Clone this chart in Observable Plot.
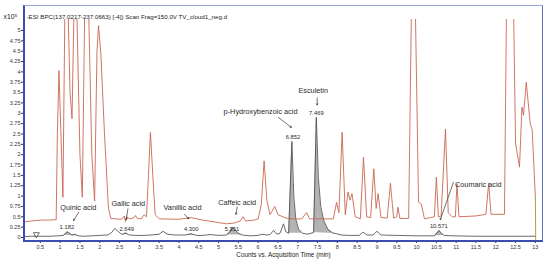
<!DOCTYPE html>
<html><head><meta charset="utf-8">
<script src="https://cdn.jsdelivr.net/npm/d3@7"></script>
<script src="https://cdn.jsdelivr.net/npm/@observablehq/plot@0.6"></script>
<style>
html,body{margin:0;padding:0;background:#fff;}
#wrap{position:relative;width:550px;height:263px;overflow:hidden;}
#frame{position:absolute;left:23px;top:5px;width:517px;height:234px;border-left:2px solid #3b4db0;border-bottom:2px solid #3b4db0;border-top:1px solid #9aa6d8;border-right:1px solid #5f6fc2;pointer-events:none;}
</style></head><body><div id="wrap"><div id="chart"></div><div id="frame"></div></div>
<script>
// ---- data ----
const headerTitle = "-ESI BPC(137.0217-237.0663) [-4]) Scan Frag=150.0V TV_cloud1_neg.d";
const scaleNote = "x10\u2075";
const axisTitle = "Counts vs. Acquisition Time (min)";
const xTicks = [0.5,1,1.5,2,2.5,3,3.5,4,4.5,5,5.5,6,6.5,7,7.5,8,8.5,9,9.5,10,10.5,11,11.5,12,12.5,13];
const yTicks = [0,0.25,0.5,0.75,1,1.25,1.5,1.75,2,2.25,2.5,2.75,3,3.25,3.5,3.75,4,4.25,4.5,4.75,5];

// BPC trace (red), time (min) and counts (x10^5)
const bpcTime = [0.10,0.3,0.5,0.7,0.90,0.93,0.97,1.02,1.07,1.12,1.20,1.25,1.30,1.35,1.42,1.50,1.56,1.62,1.72,1.80,1.87,1.93,1.97,2.03,2.12,2.22,2.28,2.40,2.55,2.62,2.65,2.68,2.75,2.85,2.90,2.95,3.05,3.12,3.18,3.23,3.28,3.34,3.40,3.50,4.0,4.3,4.6,5.0,5.2,5.4,5.55,5.62,5.68,5.9,6.0,6.08,6.15,6.22,6.3,6.42,6.5,6.7,6.9,7.1,7.22,7.3,7.9,7.98,8.04,8.12,8.2,8.27,8.32,8.37,8.45,8.58,8.66,8.74,8.84,8.92,8.98,9.03,9.1,9.26,9.34,9.42,9.5,9.53,9.58,9.8,9.87,9.97,10.05,10.12,10.2,10.35,10.45,10.5,10.55,10.62,10.73,10.8,10.9,10.98,11.02,11.07,11.5,11.75,11.82,11.88,12.22,12.27,12.45,12.5,12.6,12.66,12.7,12.77,12.87,12.92,13.0];
const bpcCount = [0.38,0.40,0.42,0.42,0.43,2.5,4.03,2.5,0.97,5.5,5.5,3.5,2.87,5.5,5.5,2.0,0.97,5.5,5.5,2.0,0.88,4.5,5.12,4.4,2.5,0.7,0.46,0.45,0.44,0.52,0.38,0.5,0.45,0.47,0.53,0.46,0.45,0.55,0.5,1.5,2.54,1.5,0.55,0.45,0.44,0.48,0.42,0.36,0.33,0.35,0.4,0.5,0.4,0.42,0.45,0.8,1.85,0.9,0.55,0.75,0.55,0.47,0.45,0.45,0.6,0.45,0.45,0.85,0.6,2.54,0.55,1.1,0.9,1.06,0.5,0.45,1.94,0.5,0.48,1.66,0.7,1.06,0.48,0.47,1.31,0.47,0.5,0.73,0.46,0.46,5.5,5.5,0.85,0.8,0.45,0.48,0.5,1.46,0.5,0.52,2.62,0.6,0.5,0.5,1.3,0.5,0.52,0.56,1.31,0.56,0.56,5.5,5.5,2.27,1.7,3.15,2.95,3.75,2.75,2.6,0.97];
const tailTime = [13.0,13.01];
const tailCount = [0.97,-0.3];

// EIC trace (black)
const eicTime = [0.10,0.25,0.40,0.55,0.75,0.95,1.08,1.13,1.18,1.23,1.28,1.33,1.37,1.45,1.6,1.8,2.0,2.2,2.3,2.38,2.45,2.52,2.58,2.64,2.69,2.75,2.9,3.1,3.3,3.5,3.6,3.7,3.9,4.05,4.18,4.3,4.37,4.45,4.6,4.8,5.0,5.2,5.28,5.35,5.42,5.5,5.6,5.8,6.0,6.1,6.2,6.3,6.39,6.47,6.55,6.64,6.7,6.77,6.852,6.9,6.95,7.02,7.12,7.25,7.40,7.469,7.52,7.58,7.66,7.76,7.88,7.98,8.1,8.3,8.55,8.65,8.75,8.9,9.0,9.1,9.5,10.0,10.45,10.571,10.62,10.7,10.9,11.5,12.2,12.8,13.0];
const eicCount = [0.02,0.03,0.03,0.03,0.03,0.04,0.05,0.09,0.14,0.11,0.07,0.06,0.08,0.04,0.03,0.04,0.05,0.06,0.12,0.22,0.16,0.1,0.07,0.11,0.09,0.06,0.05,0.05,0.06,0.08,0.15,0.08,0.06,0.06,0.06,0.09,0.07,0.05,0.05,0.07,0.05,0.06,0.13,0.24,0.18,0.1,0.06,0.04,0.05,0.08,0.06,0.07,0.17,0.08,0.1,0.33,0.14,0.1,2.32,1.0,0.45,0.2,0.1,0.08,0.12,2.9,1.45,0.75,0.4,0.2,0.11,0.09,0.06,0.05,0.05,0.13,0.06,0.06,0.15,0.06,0.05,0.04,0.04,0.17,0.1,0.05,0.04,0.03,0.03,0.03,0.03];

// identified compounds
const compounds = ["Quinic acid","Gallic acid","Vanillic acid","Caffeic acid","p-Hydroxybenzoic acid","Esculetin","Coumaric acid"];
const retention = ["1.182","2.649","4.300","5.351","6.852","7.469","10.571"];
const windowStart = [1.08,2.58,4.18,5.2,6.77,7.40,10.45];
const windowEnd = [1.45,2.75,4.45,5.6,7.12,7.98,10.7];
const injectionMark = [0.4];

// annotation placement (data units)
const labelT = [1.46,2.72,4.09,5.47,6.06,7.39,11.56];
const labelV = [0.73,0.81,0.72,0.85,3.03,3.55,1.28];
const arrowT1 = [1.47,2.71,4.14,5.47,6.51,7.49,10.93];
const arrowV1 = [0.61,0.69,0.56,0.74,2.90,3.37,1.33];
const arrowT2 = [1.34,2.67,4.25,5.44,6.84,7.49,10.60];
const arrowV2 = [0.41,0.43,0.45,0.56,2.66,3.20,0.43];
const numT = [1.17,2.68,4.31,5.34,6.88,7.47,10.56];
const numV = [0.25,0.19,0.19,0.21,2.42,3.01,0.28];

// ---- tables ----
const bpc = bpcTime.map((t,i)=>({t, v:bpcCount[i]}));
const tail = tailTime.map((t,i)=>({t, v:tailCount[i]}));
const eic = eicTime.map((t,i)=>({t, v:eicCount[i]}));
const fills = [];
compounds.forEach((c,k)=>{
  const pts = eic.filter(d=>d.t>=windowStart[k]-1e-9 && d.t<=windowEnd[k]+1e-9);
  const a = pts[0], b = pts[pts.length-1];
  pts.forEach(d=>fills.push({peak:c, t:d.t, v:d.v, base: a.v + (b.v-a.v)*(d.t-a.t)/(b.t-a.t)}));
});
const ann = compounds.map((c,k)=>({name:c, rt:retention[k], lt:labelT[k], lv:labelV[k], x1:arrowT1[k], y1:arrowV1[k], x2:arrowT2[k], y2:arrowV2[k], nt:numT[k], nv:numV[k]}));

const font = "'Liberation Sans', Arial, sans-serif";
const chart = Plot.plot({
  width: 550, height: 263,
  marginLeft: 24, marginRight: 8, marginTop: 19, marginBottom: 22,
  style: {fontFamily: font, fontSize: "5.5px", color: "#333", background: "transparent", overflow: "visible"},
  x: {domain: [0.1, 13.18], ticks: xTicks, tickFormat: d => String(d), tickSize: 2, tickPadding: 1.5, label: null},
  y: {domain: [-0.097, 5.265], ticks: yTicks, tickFormat: d => String(d), tickSize: 3, tickPadding: 1, label: null},
  marks: [
    Plot.areaY(fills, {x: "t", y1: "base", y2: "v", z: "peak", fill: "#b3b3b3", clip: true}),
    Plot.line(eic, {x: "t", y: "v", stroke: "#444", strokeWidth: 0.8, clip: true}),
    Plot.line(bpc, {x: "t", y: "v", stroke: "#c86650", strokeWidth: 0.9, clip: true}),
    Plot.line(tail, {x: "t", y: "v", stroke: "#8f9a3c", strokeWidth: 0.9, clip: true}),
    Plot.dot(injectionMark, {x: d => d, y: 0.075, symbol: "triangle", rotate: 180, r: 2.2, stroke: "#333", strokeWidth: 0.7, fill: "none"}),
    Plot.arrow(ann, {x1: "x1", y1: "y1", x2: "x2", y2: "y2", stroke: "#333", strokeWidth: 0.7, headLength: 3}),
    Plot.text(ann, {x: "lt", y: "lv", text: "name", fontSize: 7.3, fill: "#2a2a2a"}),
    Plot.text(ann, {x: "nt", y: "nv", text: "rt", fontSize: 5.8, fill: "#2a2a2a"}),
    Plot.text([headerTitle], {frameAnchor: "top-left", text: d => d, dx: 2, dy: -5, textAnchor: "start", fontSize: 6.2, fill: "#222"}),
    Plot.text([scaleNote], {frameAnchor: "top-left", text: d => d, dx: -21, dy: -5, textAnchor: "start", fontSize: 6.8, fill: "#222"}),
    Plot.text([axisTitle], {frameAnchor: "bottom", text: d => d, dy: 15, fontSize: 6.4, fill: "#222"})
  ]
});
document.getElementById("chart").appendChild(chart);
</script>
</body></html>
